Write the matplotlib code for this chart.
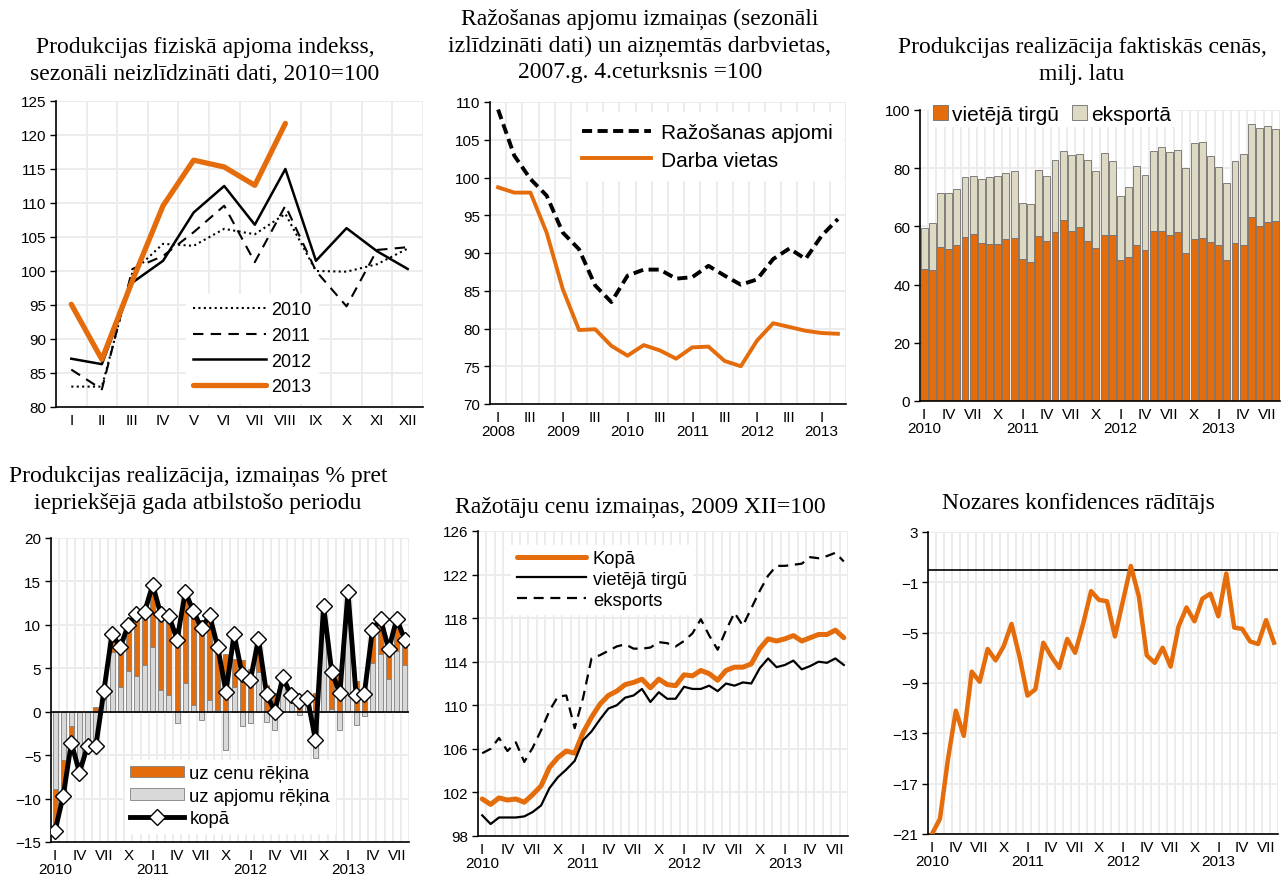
import matplotlib.pyplot as plt
import numpy as np

plt.rcParams['font.family'] = ['Liberation Sans', 'DejaVu Sans']

W, H = 1281, 879
ORANGE = '#E46C0A'
GRID = '#EBEBEB'

# --- panel 1: physical volume index, by month ---
months = ['I', 'II', 'III', 'IV', 'V', 'VI', 'VII', 'VIII', 'IX', 'X', 'XI', 'XII']
idx_2010 = [83.0, 83.0, 99.8, 104.0, 103.7, 106.2, 105.4, 108.4, 100.0, 99.9, 101.0, 103.3]
idx_2011 = [85.5, 82.6, 100.3, 102.2, 105.7, 109.6, 101.3, 109.6, 100.0, 94.8, 103.1, 103.5]
idx_2012 = [87.1, 86.3, 98.3, 101.5, 108.6, 112.5, 106.8, 115.0, 101.5, 106.3, 102.9, 100.3]
idx_2013 = [95.1, 87.0, 98.6, 109.6, 116.3, 115.3, 112.6, 121.7]

# --- panel 2: quarterly, 2008 Q1 .. 2013 Q2 ---
q_years = ['2008', '2009', '2010', '2011', '2012', '2013']
razosana = [109.0, 102.9, 99.8, 97.6, 92.7, 90.5, 85.7, 83.5, 87.0, 87.8, 87.8,
            86.6, 86.8, 88.3, 87.0, 85.8, 86.5, 89.2, 90.6, 89.2, 92.3, 94.5]
darba_vietas = [98.7, 98.0, 98.0, 92.7, 85.2, 79.8, 79.9, 77.7, 76.4, 77.8, 77.1,
                76.0, 77.5, 77.6, 75.7, 75.0, 78.4, 80.7, 80.2, 79.7, 79.4, 79.3]

# --- monthly series 2010 I .. 2013 VIII ---
m_years = ['2010', '2011', '2012', '2013']
m_labels = {0: 'I', 3: 'IV', 6: 'VII', 9: 'X'}

# panel 3: sales in current prices, mln lats
vieteja = [45.2, 44.9, 52.8, 52.3, 53.7, 56.4, 57.4, 54.4, 54.0, 54.1, 55.8, 56.0,
           48.7, 47.7, 56.8, 55.1, 58.1, 62.1, 58.4, 59.8, 55.0, 52.6, 57.2, 56.9,
           48.6, 49.6, 53.7, 51.8, 58.3, 58.5, 57.0, 58.1, 51.0, 55.7, 55.9, 54.6,
           53.5, 48.6, 54.2, 53.7, 63.1, 60.1, 61.5, 61.9]
kopa_sales = [59.6, 61.0, 71.5, 71.5, 72.9, 77.0, 77.2, 76.4, 77.1, 77.4, 78.4, 79.0,
              68.0, 67.7, 79.4, 77.4, 82.7, 85.8, 84.5, 85.0, 82.7, 79.2, 85.3, 82.5,
              70.6, 73.4, 80.8, 77.6, 86.0, 87.4, 85.6, 86.3, 80.1, 88.8, 89.1, 84.2,
              80.4, 74.8, 82.4, 84.8, 95.3, 93.8, 94.5, 93.5]
eksporta = [t - v for t, v in zip(kopa_sales, vieteja)]

# panel 4: sales change, % yoy
uz_apjomu = [-8.9, -5.6, -1.7, -5.8, -3.9, -4.5, 1.4, 6.9, 2.9, 4.7, 4.1, 5.4,
             7.4, 2.5, 1.9, -1.3, 3.3, 0.8, -1.0, 1.4, 0.2, -4.4, 2.8, -1.7,
             -1.3, 4.6, -1.2, -2.1, 3.0, 1.2, -0.4, 1.0, -5.3, 12.0, 0.3, -2.1,
             13.5, -1.5, -0.5, 5.6, 6.6, 3.8, 7.0, 5.4]
uz_cenu = [-4.6, -3.9, -1.9, -1.2, 0.0, 0.5, 1.0, 2.1, 4.5, 5.3, 7.2, 6.1,
           7.2, 8.7, 9.1, 9.6, 10.4, 10.8, 10.6, 9.7, 7.2, 6.6, 3.3, 6.0,
           4.9, 3.8, 3.1, 2.1, 1.0, 0.7, 1.6, 0.6, 2.2, 0.2, 3.9, 4.2,
           0.3, 3.5, 2.5, 3.8, 4.1, 3.5, 3.7, 2.6]
kopa_pct = [-13.7, -9.7, -3.6, -7.0, -3.9, -4.0, 2.4, 9.0, 7.4, 10.0, 11.3, 11.5,
            14.6, 11.2, 11.0, 8.3, 13.8, 11.6, 9.6, 11.1, 7.4, 2.3, 8.9, 4.3,
            3.6, 8.4, 2.0, 0.0, 4.0, 1.9, 1.2, 1.6, -3.2, 12.2, 4.6, 2.1,
            13.8, 1.9, 2.0, 9.4, 10.7, 7.2, 10.7, 8.2]

# panel 5: producer prices, 2009 XII = 100
cenas_kopa = [101.4, 100.9, 101.5, 101.3, 101.4, 101.1, 101.8, 102.6, 104.3, 105.2, 105.8, 105.6,
              107.5, 108.9, 110.1, 110.9, 111.3, 111.9, 112.1, 112.4, 111.6, 112.4, 111.9, 111.8,
              112.8, 112.7, 113.2, 112.9, 112.3, 113.2, 113.5, 113.5, 113.8, 115.2, 116.1, 115.9,
              116.1, 116.4, 115.9, 116.2, 116.5, 116.5, 116.9, 116.2]
cenas_vieteja = [99.9, 99.1, 99.7, 99.7, 99.7, 99.8, 100.2, 100.8, 102.4, 103.4, 104.1, 104.9,
                 106.8, 107.6, 108.7, 109.7, 110.0, 110.7, 110.9, 111.5, 110.3, 111.2, 110.6, 110.6,
                 111.7, 111.5, 111.5, 111.8, 111.3, 112.0, 111.8, 112.1, 112.0, 113.4, 114.3, 113.5,
                 113.7, 114.1, 113.3, 113.6, 114.0, 113.9, 114.3, 113.7]
cenas_eksports = [105.6, 106.0, 107.0, 105.8, 106.6, 104.8, 106.1, 107.7, 109.5, 110.8, 110.9, 107.9,
                  110.7, 114.3, 114.6, 115.0, 115.4, 115.6, 115.2, 115.2, 115.3, 115.8, 115.7, 115.4,
                  115.9, 116.6, 117.9, 116.4, 115.1, 116.9, 118.5, 117.3, 118.9, 120.5, 121.9, 122.8,
                  122.8, 122.9, 123.0, 123.6, 123.5, 123.7, 124.0, 123.2]

# panel 6: industry confidence indicator
konfidence = [-21.0, -19.8, -15.1, -11.2, -13.2, -8.1, -8.9, -6.3, -7.2, -6.1, -4.3, -6.9,
              -10.0, -9.5, -5.8, -6.9, -7.8, -5.5, -6.6, -4.3, -1.7, -2.4, -2.5, -5.3,
              -2.5, 0.3, -2.1, -6.8, -7.4, -6.2, -7.7, -4.5, -3.0, -4.1, -2.3, -1.9,
              -3.7, -0.3, -4.6, -4.7, -5.7, -5.9, -4.0, -5.8]


fig = plt.figure(figsize=(W / 100, H / 100), dpi=100)


def add_ax(l, t, r, b):
    return fig.add_axes([l / W, 1 - b / H, (r - l) / W, (b - t) / H])


def style(ax, n, ylim, yticks):
    ax.set_xlim(-0.5, n - 0.5)
    ax.set_ylim(*ylim)
    ax.set_yticks(yticks)
    ax.set_xticks(np.arange(n + 1) - 0.5, minor=True)
    ax.grid(True, which='minor', axis='x', color=GRID, lw=1.3)
    ax.grid(True, which='major', axis='y', color=GRID, lw=1.3)
    ax.set_axisbelow(True)
    for s in ['top', 'right']:
        ax.spines[s].set_visible(False)
    for s in ['left', 'bottom']:
        ax.spines[s].set_linewidth(1.2)
    ax.tick_params(axis='x', which='both', length=0, labelsize=11, pad=4)
    ax.tick_params(axis='y', length=4, width=1, labelsize=11, pad=3)


def month_ticks(ax, n):
    pos, lab = [], []
    for k in range(n):
        if k % 3 == 0:
            pos.append(k)
            s = m_labels[k % 12]
            if k % 12 == 0:
                s += '\n' + m_years[k // 12]
            lab.append(s)
    ax.set_xticks(pos)
    ax.set_xticklabels(lab, linespacing=1.05)


def title(x, y, s):
    fig.text(x / W, 1 - y / H, s, ha='center', va='center', fontsize=17,
             family=['Liberation Serif', 'DejaVu Serif'], linespacing=1.33)


# ---------------- panel 1 ----------------
ax1 = add_ax(56, 102, 423, 408)
style(ax1, 12, (80, 125), np.arange(80, 126, 5))
ax1.set_xticks(range(12))
ax1.set_xticklabels(months)
ax1.plot(range(12), idx_2010, color='black', lw=1.5, ls=(0, (1, 1.6)), label='2010')
ax1.plot(range(12), idx_2011, color='black', lw=1.5, ls=(0, (5, 3.5)), label='2011')
ax1.plot(range(12), idx_2012, color='black', lw=1.8, label='2012')
ax1.plot(range(len(idx_2013)), idx_2013, color=ORANGE, lw=3.8, label='2013',
         solid_capstyle='round', solid_joinstyle='round')
ax1.legend(loc='lower left', bbox_to_anchor=(0.33, -0.015), fontsize=13,
           frameon=True, fancybox=False, edgecolor='white', framealpha=1,
           handlelength=4.0, labelspacing=0.48, handletextpad=0.3, borderpad=0.4)
title(205, 61, 'Produkcijas fiziskā apjoma indekss,\nsezonāli neizlīdzināti dati, 2010=100')

# ---------------- panel 2 ----------------
nq = len(razosana)
ax2 = add_ax(490, 103, 846, 405)
style(ax2, nq, (70, 110), np.arange(70, 111, 5))
qpos, qlab = [], []
for k in range(0, nq, 2):
    qpos.append(k)
    qlab.append('I\n' + q_years[k // 4] if k % 4 == 0 else 'III')
ax2.set_xticks(qpos)
ax2.set_xticklabels(qlab, linespacing=1.05)
ax2.plot(range(nq), razosana, color='black', lw=2.8, ls=(0, (2.6, 1.4)),
         label='Ražošanas apjomi')
ax2.plot(range(nq), darba_vietas, color=ORANGE, lw=2.8, label='Darba vietas',
         solid_joinstyle='round')
ax2.legend(loc='upper right', bbox_to_anchor=(1.02, 1.0), fontsize=15,
           frameon=True, fancybox=False, edgecolor='white', framealpha=1,
           handlelength=3.3, labelspacing=0.42, handletextpad=0.45, borderpad=0.5)
title(640, 46, 'Ražošanas apjomu izmaiņas (sezonāli\nizlīdzināti dati) un aizņemtās darbvietas,\n2007.g. 4.ceturksnis =100')

# ---------------- panel 3 ----------------
nm = len(vieteja)
ax3 = add_ax(920, 111, 1280, 402)
style(ax3, nm, (0, 100), np.arange(0, 101, 20))
month_ticks(ax3, nm)
ax3.bar(range(nm), vieteja, width=0.85, color=ORANGE, edgecolor='#6E6E6E', lw=0.6,
        label='vietējā tirgū')
ax3.bar(range(nm), eksporta, bottom=vieteja, width=0.85, color='#DDD9C3',
        edgecolor='#6E6E6E', lw=0.6, label='eksportā')
ax3.legend(loc='upper left', bbox_to_anchor=(0.0, 1.06), ncol=2, fontsize=15,
           frameon=True, fancybox=False, edgecolor='white', framealpha=1,
           handlelength=0.75, handleheight=0.75, handletextpad=0.2,
           columnspacing=0.6, borderpad=0.1)
title(1082, 61, 'Produkcijas realizācija faktiskās cenās,\nmilj. latu')

# ---------------- panel 4 ----------------
ax4 = add_ax(51, 539, 409, 843)
style(ax4, nm, (-15, 20), np.arange(-15, 21, 5))
month_ticks(ax4, nm)
apj = np.array(uz_apjomu)
cen = np.array(uz_cenu)
cen_bottom = np.where(np.sign(apj) == np.sign(cen), apj, 0)
b_cen = ax4.bar(range(nm), cen, bottom=cen_bottom, width=0.62, color=ORANGE,
                edgecolor='#7F7F7F', lw=0.6, zorder=2)
b_apj = ax4.bar(range(nm), apj, width=0.62, color='#D9D9D9', edgecolor='#7F7F7F',
                lw=0.6, zorder=2)
ax4.axhline(0, color='black', lw=1.2, zorder=3)
l_kopa, = ax4.plot(range(nm), kopa_pct, color='black', lw=3.5, marker='D', ms=8,
                   mfc='white', mec='black', mew=1.0, zorder=4)
ax4.legend([b_cen, b_apj, l_kopa], ['uz cenu rēķina', 'uz apjomu rēķina', 'kopā'],
           loc='lower left', bbox_to_anchor=(0.18, 0.0), fontsize=13.3, frameon=True,
           fancybox=False, edgecolor='white', framealpha=1, handlelength=2.9,
           handleheight=0.6, labelspacing=0.3, handletextpad=0.3, borderpad=0.3)
title(198, 490, 'Produkcijas realizācija, izmaiņas % pret\niepriekšējā gada atbilstošo periodu')

# ---------------- panel 5 ----------------
ax5 = add_ax(478, 532, 848, 837)
style(ax5, nm, (98, 126), np.arange(98, 127, 4))
month_ticks(ax5, nm)
ax5.plot(range(nm), cenas_kopa, color=ORANGE, lw=3.6, label='Kopā',
         solid_joinstyle='round', solid_capstyle='round')
ax5.plot(range(nm), cenas_vieteja, color='black', lw=1.6, label='vietējā tirgū')
ax5.plot(range(nm), cenas_eksports, color='black', lw=1.6, ls=(0, (4.5, 3)),
         label='eksports')
ax5.legend(loc='upper left', bbox_to_anchor=(0.065, 0.985), fontsize=13.2,
           frameon=True, fancybox=False, edgecolor='white', framealpha=1,
           handlelength=3.8, labelspacing=0.2, handletextpad=0.35, borderpad=0.3)
title(640, 507, 'Ražotāju cenu izmaiņas, 2009 XII=100')

# ---------------- panel 6 ----------------
ax6 = add_ax(928, 533, 1278, 835)
style(ax6, nm, (-21, 3), np.arange(-21, 4, 4))
month_ticks(ax6, nm)
ax6.axhline(0, color='black', lw=1.2, zorder=3)
ax6.plot(range(nm), konfidence, color=ORANGE, lw=3.2, solid_joinstyle='round',
         zorder=4)
title(1078, 503, 'Nozares konfidences rādītājs')

fig.savefig('out.png', dpi=100)
